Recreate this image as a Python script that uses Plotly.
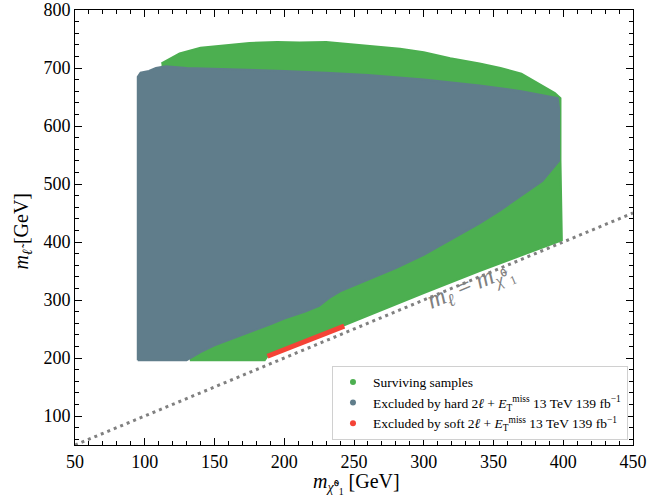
import plotly.graph_objects as go

# ---- data (GeV) ----
green_x = [112, 125, 140, 160, 175, 195, 211, 230, 247, 265, 283, 300, 319, 340, 355, 370, 383, 394, 398,
           398, 399, 370, 340, 300, 270, 246, 188, 186, 133, 130, 112]
green_y = [708, 725, 735, 740, 743, 745, 744, 745, 741, 738, 733, 727, 717, 708, 700, 690, 672, 657, 648,
           540, 403, 377, 350, 312, 283, 259, 203, 196, 196, 300, 700]

grey_x = [95, 95, 97, 103, 108, 115, 130, 160, 200, 230, 260, 300, 340, 370, 396,
          397, 397, 385, 370, 355, 340, 320, 300, 280, 265, 250, 240, 232, 225, 215, 200, 190, 175, 160, 150, 140, 133, 130, 95]
grey_y = [196, 685, 692, 695, 700, 703, 700, 698, 695, 692, 688, 680, 670, 660, 648,
          630, 540, 505, 480, 455, 432, 405, 378, 355, 340, 325, 315, 303, 290, 280, 268, 258, 245, 232, 222, 210, 200, 196, 196]

red_x = [188, 215, 243]
red_y = [203, 229, 255]

diag_x = [50, 450]
diag_y = [50, 450]

labels = ["Surviving samples",
          "Excluded by hard 2<i>ℓ</i> + <i>E</i><sub>T</sub><sup>miss</sup> 13 TeV 139 fb<sup>−1</sup>",
          "Excluded by soft 2<i>ℓ</i> + <i>E</i><sub>T</sub><sup>miss</sup> 13 TeV 139 fb<sup>−1</sup>"]
colors = ["#4caf50", "#607d8b", "#f44336"]

FONT = "Liberation Serif"

fig = go.Figure()
fig.add_trace(go.Scatter(x=green_x, y=green_y, mode="lines", fill="toself", fillcolor=colors[0],
                         line=dict(color=colors[0], width=2), showlegend=False, hoverinfo="skip"))
fig.add_trace(go.Scatter(x=grey_x, y=grey_y, mode="lines", fill="toself", fillcolor=colors[1],
                         line=dict(color=colors[1], width=2), showlegend=False, hoverinfo="skip"))
fig.add_trace(go.Scatter(x=red_x, y=red_y, mode="lines",
                         line=dict(color=colors[2], width=5), showlegend=False, hoverinfo="skip"))
fig.add_trace(go.Scatter(x=diag_x, y=diag_y, mode="lines",
                         line=dict(color="#808080", width=3, dash="3px,4px"), showlegend=False, hoverinfo="skip"))

for lab, col in zip(labels, colors):
    fig.add_trace(go.Scatter(x=[None], y=[None], mode="markers", name=lab,
                             marker=dict(color=col, size=6)))

fig.add_annotation(x=334, y=322, xref="x", yref="y", showarrow=False, textangle=-22.6,
                   text="<i>m</i><sub><i>ℓ</i></sub> = <i>m</i><sub><i>χ̃</i>⁰<sub>1</sub></sub>",
                   font=dict(family=FONT, size=25, color="#808080"))

# axis titles
fig.add_annotation(x=0.504, y=-0.088, xref="paper", yref="paper", showarrow=False,
                   xanchor="center", yanchor="middle",
                   text="<i>m</i><sub><i>χ̃</i>⁰<sub>1</sub></sub> [GeV]",
                   font=dict(family=FONT, size=20, color="black"))
fig.add_annotation(x=-0.094, y=0.49, xref="paper", yref="paper", showarrow=False,
                   xanchor="center", yanchor="middle", textangle=-90,
                   text="<i>m</i><sub><i>ℓ̃</i></sub> [GeV]",
                   font=dict(family=FONT, size=20, color="black"))

axis_common = dict(showline=True, linecolor="black", linewidth=1, mirror="allticks",
                   ticks="inside", ticklen=7, tickcolor="black", showgrid=False, zeroline=False,
                   automargin=False,
                   tickfont=dict(family=FONT, size=18, color="black"))

fig.update_xaxes(range=[50, 450], tick0=50, dtick=50,
                 minor=dict(ticks="inside", ticklen=4, dtick=10, tickcolor="black", showgrid=False),
                 **axis_common)
fig.update_yaxes(range=[50, 800], tick0=0, dtick=100,
                 minor=dict(ticks="inside", ticklen=4, dtick=20, tick0=0, tickcolor="black", showgrid=False),
                 **axis_common)

fig.update_layout(width=647, height=503, margin=dict(l=75, r=14, t=10, b=58, autoexpand=False),
                  plot_bgcolor="white", paper_bgcolor="white",
                  legend=dict(x=0.991, y=0.012, xanchor="right", yanchor="bottom",
                              bgcolor="white", bordercolor="#d0d0d0", borderwidth=1,
                              font=dict(family=FONT, size=13.5, color="black"),
                              itemwidth=30, tracegroupgap=2))

# remove the default page margin so the figure sits at the window's top-left corner
fig.write_html("out.html", config={"displayModeBar": False},
               post_script="document.body.style.margin='0';")
